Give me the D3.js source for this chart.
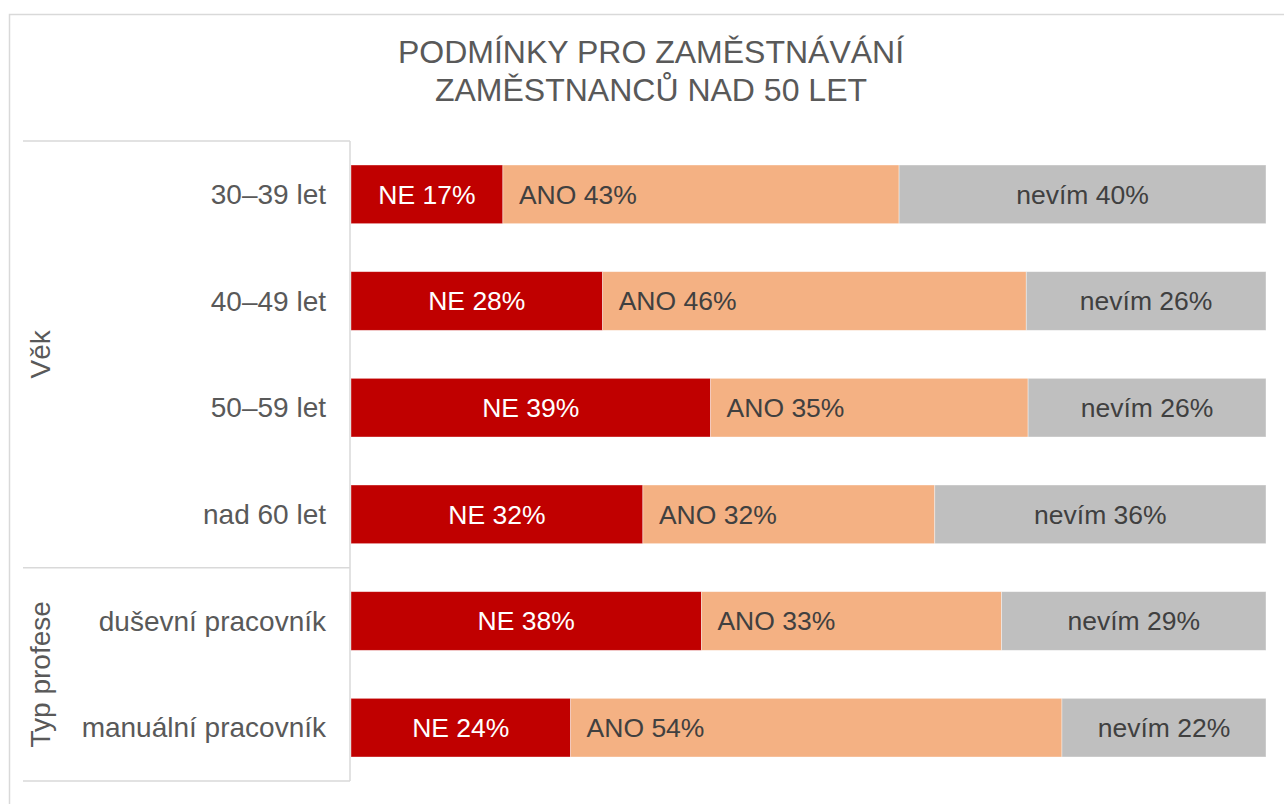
<!DOCTYPE html>
<html>
<head>
<meta charset="utf-8">
<script src="https://cdn.jsdelivr.net/npm/d3@7"></script>
<style>
  body { margin: 0; background: #fff; }
  svg { display: block; font-family: "Liberation Sans", Arial, sans-serif; }
</style>
</head>
<body>
<div class="chart"></div>
<script>
const categories = ['30–39 let', '40–49 let', '50–59 let', 'nad 60 let', 'duševní pracovník', 'manuální pracovník'];
const groups = [
    {name: 'Věk', from: 0, to: 3},
    {name: 'Typ profese', from: 4, to: 5}
];
const seriesNames = ['NE', 'ANO', 'nevím'];
const ne    = [16.6, 27.5, 39.3, 31.9, 38.3, 24.0];
const ano   = [43.3, 46.3, 34.7, 31.9, 32.8, 53.7];
const nevim = [40.1, 26.2, 26.0, 36.2, 28.9, 22.3];
const titleLines = ['PODMÍNKY PRO ZAMĚSTNÁVÁNÍ', 'ZAMĚSTNANCŮ NAD 50 LET'];

const colors = ['#c00000', '#f4b183', '#bfbfbf'];
const labelColors = ['#ffffff', '#404040', '#404040'];

const W = 1284, H = 804;
const margin = {top: 141, right: 18, bottom: 23, left: 351};

const svg = d3.select('.chart').append('svg')
    .attr('width', W)
    .attr('height', H);

// outer frame
svg.append('rect')
    .attr('x', 9.5).attr('y', 14.5)
    .attr('width', 1300).attr('height', 820)
    .attr('fill', 'none')
    .attr('stroke', '#d9d9d9')
    .attr('stroke-width', 1.5);

// title
svg.append('text')
    .attr('x', 651).attr('y', 63)
    .attr('text-anchor', 'middle')
    .attr('fill', '#595959')
    .attr('font-size', 32)
    .selectAll('tspan')
    .data(titleLines)
    .join('tspan')
    .attr('x', 651)
    .attr('dy', (d, i) => i === 0 ? 0 : 38)
    .text(d => d);

const rows = categories.map((c, i) => ({cat: c, NE: ne[i], ANO: ano[i], 'nevím': nevim[i]}));
const stack = d3.stack().keys(seriesNames)(rows);

const x = d3.scaleLinear()
    .domain([0, 100])
    .range([margin.left, W - margin.right]);

const y = d3.scaleBand()
    .domain(categories)
    .range([margin.top, H - margin.bottom])
    .paddingInner(0.45)
    .paddingOuter(0.225);

const layers = svg.append('g').selectAll('g')
    .data(stack)
    .join('g')
    .attr('fill', (d, i) => colors[i]);

layers.selectAll('rect')
    .data(d => d)
    .join('rect')
    .attr('x', d => x(d[0]))
    .attr('y', d => y(d.data.cat))
    .attr('width', d => x(d[1]) - x(d[0]))
    .attr('height', y.bandwidth())
    .attr('stroke', '#ffffff')
    .attr('stroke-opacity', 0.5)
    .attr('stroke-width', 0.75);

// segment labels
stack.forEach((layer, si) => {
    svg.append('g').selectAll('text')
        .data(layer)
        .join('text')
        .attr('x', d => si === 1 ? x(d[0]) + 16 : (x(d[0]) + x(d[1])) / 2)
        .attr('y', d => y(d.data.cat) + y.bandwidth() / 2)
        .attr('dy', '0.35em')
        .attr('text-anchor', si === 1 ? 'start' : 'middle')
        .attr('fill', labelColors[si])
        .attr('font-size', 26.5)
        .text(d => seriesNames[si] + ' ' + Math.round(d[1] - d[0]) + '%');
});

// category axis
const axisX = margin.left - 1;
const step = y.step();
const bandEdge = i => margin.top + i * step;

svg.append('g').selectAll('text')
    .data(categories)
    .join('text')
    .attr('x', 326)
    .attr('y', d => y(d) + y.bandwidth() / 2)
    .attr('dy', '0.35em')
    .attr('text-anchor', 'end')
    .attr('fill', '#595959')
    .attr('font-size', 28)
    .text(d => d);

const lines = svg.append('g')
    .attr('stroke', '#d9d9d9')
    .attr('stroke-width', 1.5);

lines.append('line')
    .attr('x1', axisX).attr('x2', axisX)
    .attr('y1', margin.top).attr('y2', H - margin.bottom);

const edges = [0].concat(groups.map(g => g.to + 1));
lines.selectAll('.sep')
    .data(edges)
    .join('line')
    .attr('class', 'sep')
    .attr('x1', 23).attr('x2', axisX)
    .attr('y1', d => bandEdge(d)).attr('y2', d => bandEdge(d));

svg.append('g').selectAll('text')
    .data(groups)
    .join('text')
    .attr('transform', g => {
        const cy = (bandEdge(g.from) + bandEdge(g.to + 1)) / 2;
        return 'translate(50,' + cy + ') rotate(-90)';
    })
    .attr('text-anchor', 'middle')
    .attr('fill', '#595959')
    .attr('font-size', 28)
    .text(g => g.name);
</script>
</body>
</html>
